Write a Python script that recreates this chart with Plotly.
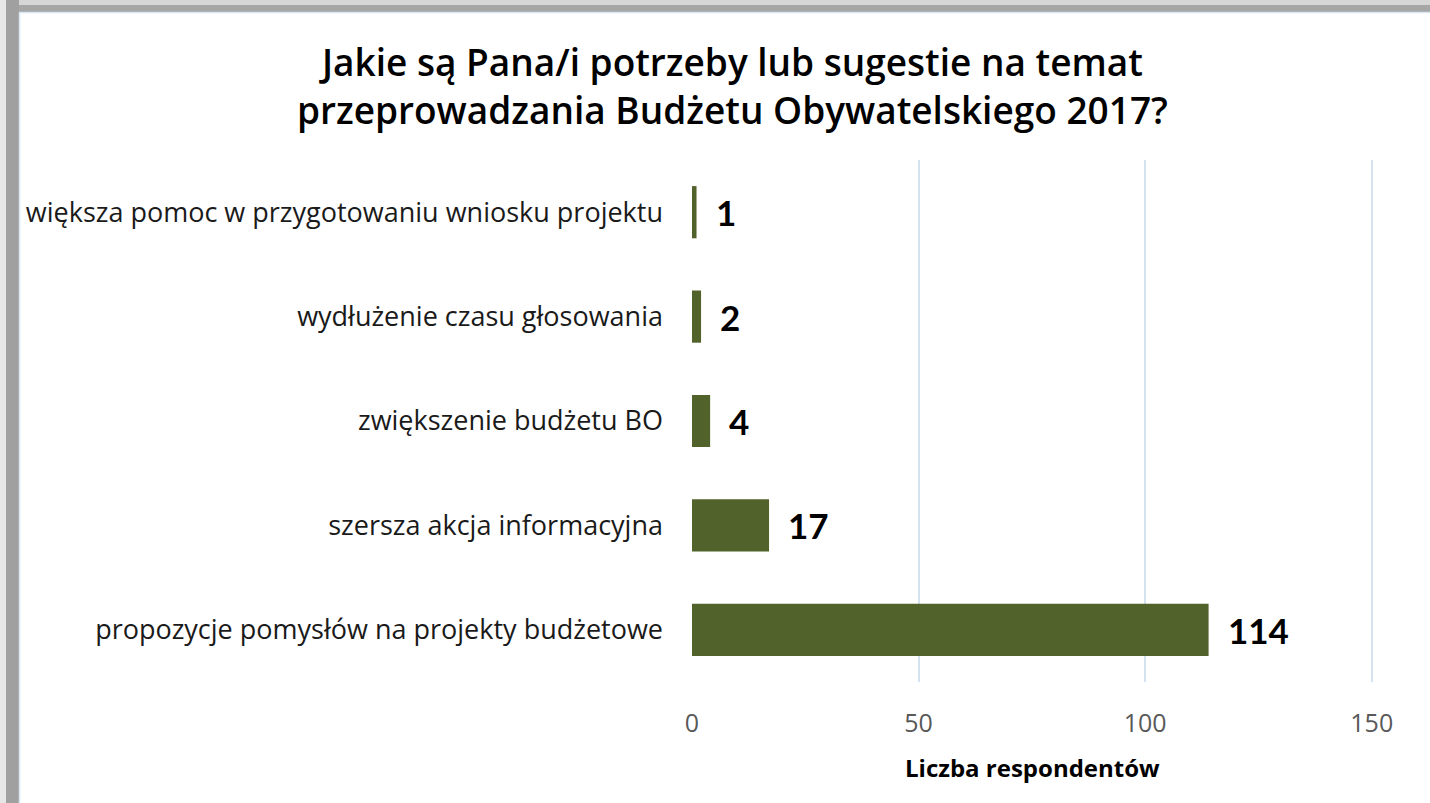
import plotly.graph_objects as go

categories = [
    "propozycje pomysłów na projekty budżetowe",
    "szersza akcja informacyjna",
    "zwiększenie budżetu BO",
    "wydłużenie czasu głosowania",
    "większa pomoc w przygotowaniu wniosku projektu",
]
values = [114, 17, 4, 2, 1]
tick_vals = [0, 50, 100, 150]

title_lines = ["Jakie są Pana/i potrzeby lub sugestie na temat",
               "przeprowadzania Budżetu Obywatelskiego 2017?"]
x_title = "Liczba respondentów"

BAR = "#52622B"
GRID = "#D5E3F1"

# plot area in pixels
L, R, T, B = 692, 1374, 160, 682
W, H = 1430, 803
px = lambda p: (p - L) / (R - L)
py = lambda p: (B - p) / (B - T)

fig = go.Figure()
fig.add_trace(go.Bar(
    y=categories, x=values, orientation="h",
    marker=dict(color=BAR, line=dict(width=0)),
    hoverinfo="skip",
))

for c, v in zip(categories, values):
    fig.add_annotation(
        x=v, y=c, xref="x", yref="y", text=f"<b>{v}</b>",
        showarrow=False, xanchor="left", yanchor="middle", xshift=17,
        font=dict(family="Lato, Open Sans, sans-serif", size=35, color="#000000"),
    )

fig.update_layout(
    width=W, height=H,
    paper_bgcolor="#FFFFFF", plot_bgcolor="#FFFFFF",
    margin=dict(l=L, r=W - R, t=T, b=H - B),
    showlegend=False,
    bargap=0.5,
    xaxis=dict(
        range=[0, 150.5], tickvals=tick_vals, showgrid=True,
        gridcolor=GRID, gridwidth=1.5, zeroline=False,
        showline=False, ticks="", ticklabelstandoff=24,
        tickfont=dict(family="Open Sans, sans-serif", size=25, color="#595959"),
        fixedrange=True,
    ),
    yaxis=dict(
        showgrid=False, zeroline=False, showline=False, ticks="",
        ticklabelstandoff=28,
        tickfont=dict(family="Open Sans, sans-serif", size=27, color="#1A1A1A"),
        fixedrange=True,
    ),
)

# Title (two lines)
fig.add_annotation(
    xref="paper", yref="paper", x=px(732), y=py(86),
    text="<br>".join(f"<span style='font-weight:600'>{t}</span>" for t in title_lines),
    showarrow=False, xanchor="center", yanchor="middle",
    font=dict(family="Open Sans, sans-serif", size=37, color="#000000"),
)
# Axis title
fig.add_annotation(
    xref="paper", yref="paper", x=px(1032), y=py(767),
    text=f"<b>{x_title}</b>", showarrow=False, xanchor="center", yanchor="middle",
    font=dict(family="Open Sans, sans-serif", size=24, color="#000000"),
)

# frame around the chart (gray bands on top/left)
fig.update_layout(shapes=[
    dict(type="rect", xref="paper", yref="paper", layer="above",
         x0=px(0), x1=px(W), y0=py(5), y1=py(0),
         fillcolor="#D6D6D6", line=dict(width=0)),
    dict(type="rect", xref="paper", yref="paper", layer="above",
         x0=px(0), x1=px(W), y0=py(12), y1=py(5),
         fillcolor="#A6A6A6", line=dict(width=0)),
    dict(type="rect", xref="paper", yref="paper", layer="above",
         x0=px(0), x1=px(19), y0=py(H), y1=py(0),
         fillcolor="#A0A0A0", line=dict(width=0)),
    dict(type="rect", xref="paper", yref="paper", layer="above",
         x0=px(0), x1=px(6), y0=py(H), y1=py(0),
         fillcolor="#E6E6E6", line=dict(width=0)),
    dict(type="line", xref="paper", yref="paper", layer="above",
         x0=px(19.5), x1=px(W), y0=py(12.5), y1=py(12.5),
         line=dict(color="#D9E6F4", width=1.5)),
    dict(type="line", xref="paper", yref="paper", layer="above",
         x0=px(19.5), x1=px(19.5), y0=py(H), y1=py(12.5),
         line=dict(color="#D9E6F4", width=1.5)),
])

fig.write_html("out.html", config={"displayModeBar": False},
               post_script="document.body.style.margin='0';document.body.style.overflow='hidden';")
